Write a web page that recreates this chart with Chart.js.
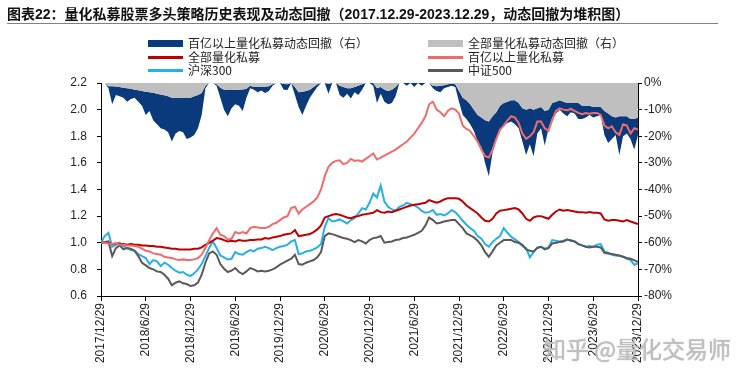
<!DOCTYPE html>
<html>
<head>
<meta charset="utf-8">
<script src="https://cdn.jsdelivr.net/npm/chart.js@4"></script>
<style>
body { margin: 0; background: #fff; }
#box { position: relative; width: 750px; height: 379px; overflow: hidden; font-family: "Noto Sans CJK SC", sans-serif; }
#c { position: absolute; left: 0; top: 0; }
.title { position: absolute; left: 7px; top: 4px; font-size: 14px; font-weight: bold; color: #111; white-space: nowrap; line-height: 20px;
  font-family: "Liberation Sans", "Noto Sans CJK SC", sans-serif; }
.rule { position: absolute; left: 7px; top: 23px; width: 711px; height: 1px; background: #808080; }
.lg { position: absolute; font-size: 12px; color: #222; line-height: 14px; white-space: nowrap; }
.sw { position: absolute; }
.wm { position: absolute; left: 543px; top: 331px; font-size: 23px; color: rgba(200,200,200,0.85); white-space: nowrap;
  text-shadow: 0 0 1px #8a8a8a; }
</style>
</head>
<body>
<div id="box">
  <canvas id="c" width="750" height="379"></canvas>
  <div class="title">图表22：量化私募股票多头策略历史表现及动态回撤（2017.12.29-2023.12.29，动态回撤为堆积图）</div>
  <div class="rule"></div>
  <div id="legend"></div>
  <div class="wm">知乎 @量化交易师</div>
</div>
<script>
// 横轴刻度（每半年一个），数据为半月频
const tickLabels = ['2017/12/29', '2018/6/29', '2018/12/29', '2019/6/29', '2019/12/29', '2020/6/29', '2020/12/29',
    '2021/6/29', '2021/12/29', '2022/6/29', '2022/12/29', '2023/6/29', '2023/12/29'];

// 百亿以上量化私募 净值
const bigNav = [
    1.00, 1.00, 0.995, 0.99, 0.995, 0.985, 0.985, 0.98, 0.98, 0.975, 0.97, 0.955,
    0.94, 0.935, 0.92, 0.915, 0.91, 0.895, 0.89, 0.885, 0.875, 0.87, 0.875, 0.87,
    0.87, 0.875, 0.885, 0.91, 0.96, 1.02, 1.07, 1.11, 1.06, 1.05, 1.025, 1.03,
    1.08, 1.07, 1.08, 1.07, 1.11, 1.12, 1.115, 1.11, 1.11, 1.12, 1.14, 1.15,
    1.17, 1.19, 1.20, 1.26, 1.27, 1.22, 1.25, 1.27, 1.29, 1.31, 1.34, 1.40,
    1.50, 1.57, 1.60, 1.615, 1.62, 1.59, 1.60, 1.63, 1.615, 1.62, 1.61, 1.63,
    1.65, 1.67, 1.625, 1.64, 1.655, 1.67, 1.685, 1.70, 1.72, 1.74, 1.76, 1.79,
    1.82, 1.86, 1.90, 1.95, 2.04, 2.06, 2.00, 1.98, 1.95, 1.99, 2.01, 2.00,
    1.97, 1.88, 1.855, 1.84, 1.80, 1.76, 1.70, 1.65, 1.64, 1.70, 1.78, 1.85,
    1.88, 1.92, 1.95, 1.94, 1.90, 1.82, 1.78, 1.80, 1.83, 1.91, 1.91, 1.86,
    1.84, 1.92, 1.99, 2.01, 2.00, 1.995, 2.005, 1.99, 1.975, 1.965, 1.975, 1.97,
    1.975, 1.975, 1.96, 1.88, 1.86, 1.875, 1.83, 1.81, 1.89, 1.88, 1.82, 1.86,
    1.85
];

// 全部量化私募 净值
const allNav = [
    1.00, 1.00, 1.00, 0.99, 0.995, 0.99, 0.99, 0.985, 0.99, 0.985, 0.985, 0.98,
    0.98, 0.975, 0.975, 0.97, 0.97, 0.965, 0.96, 0.955, 0.955, 0.95, 0.95, 0.95,
    0.95, 0.955, 0.955, 0.965, 0.985, 1.00, 1.015, 1.035, 1.03, 1.02, 1.01, 1.015,
    1.01, 1.02, 1.015, 1.015, 1.02, 1.02, 1.025, 1.025, 1.035, 1.03, 1.04, 1.045,
    1.05, 1.06, 1.065, 1.07, 1.095, 1.05, 1.055, 1.06, 1.065, 1.08, 1.10, 1.13,
    1.19, 1.20, 1.21, 1.215, 1.21, 1.20, 1.19, 1.185, 1.195, 1.20, 1.21, 1.215,
    1.22, 1.225, 1.245, 1.23, 1.225, 1.235, 1.23, 1.24, 1.25, 1.26, 1.27, 1.28,
    1.285, 1.29, 1.295, 1.30, 1.32, 1.31, 1.30, 1.31, 1.325, 1.335, 1.335, 1.335,
    1.33, 1.31, 1.28, 1.26, 1.24, 1.22, 1.19, 1.165, 1.16, 1.18, 1.22, 1.24,
    1.245, 1.25, 1.255, 1.26, 1.25, 1.22, 1.18, 1.165, 1.19, 1.20, 1.20, 1.19,
    1.18, 1.21, 1.235, 1.25, 1.24, 1.245, 1.24, 1.235, 1.23, 1.23, 1.225, 1.23,
    1.225, 1.225, 1.22, 1.175, 1.165, 1.17, 1.17, 1.165, 1.16, 1.17, 1.16, 1.15,
    1.14
];

// 沪深300
const hs300 = [
    1.00, 1.05, 1.075, 0.97, 0.985, 1.00, 0.975, 0.96, 0.945, 0.94, 0.915, 0.90,
    0.885, 0.84, 0.87, 0.86, 0.825, 0.85, 0.835, 0.81, 0.79, 0.775, 0.78, 0.76,
    0.75, 0.77, 0.80, 0.84, 0.90, 0.96, 1.01, 0.96, 0.905, 0.89, 0.875, 0.88,
    0.93, 0.915, 0.91, 0.93, 0.945, 0.935, 0.955, 0.96, 0.97, 0.96, 0.945, 0.96,
    0.97, 0.975, 0.985, 1.01, 1.02, 0.915, 0.92, 0.935, 0.94, 0.95, 0.965, 0.99,
    1.12, 1.185, 1.16, 1.165, 1.175, 1.16, 1.145, 1.17, 1.185, 1.22, 1.26, 1.25,
    1.30, 1.37, 1.34, 1.43, 1.31, 1.27, 1.25, 1.24, 1.27, 1.28, 1.30, 1.29,
    1.28, 1.265, 1.24, 1.225, 1.23, 1.245, 1.21, 1.215, 1.205, 1.22, 1.245, 1.23,
    1.20, 1.165, 1.135, 1.11, 1.09, 1.05, 1.03, 0.99, 0.97, 1.005, 1.03, 1.05,
    1.11, 1.075, 1.045, 1.025, 1.005, 0.975, 0.96, 0.89, 0.93, 0.965, 0.97, 0.955,
    0.965, 1.02, 1.015, 1.01, 1.015, 1.02, 1.02, 1.01, 0.99, 0.98, 0.97, 0.975,
    0.97, 0.985, 0.99, 0.935, 0.925, 0.91, 0.905, 0.90, 0.895, 0.88, 0.87, 0.835,
    0.845
];

// 中证500
const zz500 = [
    1.00, 1.005, 1.01, 0.90, 0.96, 0.98, 0.95, 0.96, 0.955, 0.94, 0.90, 0.85,
    0.83, 0.81, 0.80, 0.785, 0.78, 0.76, 0.73, 0.68, 0.70, 0.71, 0.695, 0.69,
    0.675, 0.68, 0.70, 0.76, 0.85, 0.92, 0.935, 0.91, 0.84, 0.805, 0.78, 0.79,
    0.81, 0.78, 0.765, 0.785, 0.81, 0.80, 0.785, 0.79, 0.785, 0.79, 0.80, 0.815,
    0.835, 0.85, 0.865, 0.88, 0.91, 0.84, 0.835, 0.85, 0.86, 0.87, 0.89, 0.93,
    1.05, 1.07, 1.065, 1.055, 1.045, 1.035, 1.03, 1.02, 1.005, 1.02, 1.01, 0.995,
    1.02, 1.035, 1.04, 1.05, 1.00, 1.005, 1.01, 1.02, 1.025, 1.035, 1.04, 1.05,
    1.06, 1.075, 1.09, 1.13, 1.19, 1.17, 1.145, 1.15, 1.16, 1.165, 1.17, 1.17,
    1.14, 1.11, 1.07, 1.055, 1.04, 1.015, 0.98, 0.93, 0.895, 0.935, 0.98, 1.00,
    1.02, 1.02, 1.02, 1.005, 1.00, 0.985, 0.95, 0.94, 0.935, 0.96, 0.97, 0.95,
    0.96, 0.995, 1.00, 1.005, 1.01, 1.025, 1.015, 1.01, 0.99, 0.98, 0.97, 0.965,
    0.97, 0.97, 0.965, 0.925, 0.92, 0.915, 0.91, 0.905, 0.895, 0.885, 0.88, 0.87,
    0.855
];

// 全部量化私募动态回撤（%）
const allDD = [
    0, 0, -1.2, -1.2, -1.3, -1.5, -1.8, -2, -2.2, -2.5, -2.7, -3,
    -3.3, -3.5, -3.7, -4, -4.3, -4.6, -5, -5.5, -5.6, -5.6, -5.6, -5.6,
    -5.5, -5, -4.5, -3.8, -1, 0, 0, -0.5, -1.8, -2.5, -2.6, -2.6,
    -2.6, -2.5, -2.4, -2.2, -1, -1.5, -1.5, -1.4, -1.4, -1.2, -0.5, 0,
    0, -0.4, -0.5, 0, -1.5, -3.5, -3.3, -3, -2.5, -1.5, -0.5, 0,
    0, -0.3, 0, 0, -1, -1.5, -2, -2, -1.5, -1, -0.5, 0,
    0, 0, -2, -1.5, -2.5, -3, -2.5, -1.5, 0, 0, 0, 0,
    0, 0, 0, 0, 0, -1, -1.2, -1, -0.8, -0.5, -0.3, -0.5,
    -3, -5.5, -6.5, -8, -10, -12, -13, -14, -14.5, -12.5, -11, -8.5,
    -7.5, -7, -6.5, -6.5, -7.5, -9.5, -10, -9.5, -10, -9.5, -9, -10.5,
    -10, -7.5, -7, -6.5, -7, -7.5, -7.5, -7.5, -7.5, -8.5, -8.5, -8.5,
    -9, -9, -9, -10.5, -11.5, -12.5, -13, -12.5, -12.5, -12.5, -13.5, -13.5,
    -13
];

// 百亿以上量化私募动态回撤（%），堆积在上一组之下
const bigDD = [
    0, 0, -0.8, -6.8, -3.2, -3.5, -3.7, -5, -3.8, -3, -4.3, -5.5,
    -8.7, -7, -10.3, -11.5, -12.7, -12.9, -13.5, -16.5, -13.4, -12.4, -12.9, -15.4,
    -15, -14.5, -12.5, -8.2, -1, 0, 0, -0.5, -3.7, -7.5, -9.9, -6.9,
    -5.4, -6, -8.1, -3.3, -1, -1, -2, -1.4, -2.4, -1.8, -0.5, 0,
    0, -2.1, -2.1, 0, -3, -5.5, -8.7, -5.5, -3, -2, -1, 0,
    0, -3.7, 0, 0, -3.5, -4, -2, -3.8, -2, -3.5, -2, 0,
    0, -1, -5.5, -2.5, -4.5, -5, -5, -3.5, 0, 0, -1, 0,
    -1.5, 0, -1, 0, 0, -1, -1.8, -2.5, -1.2, -1, -0.7, -1,
    -4, -6.5, -7, -7.5, -8, -10, -11, -16, -20.5, -13.5, -10, -9.5,
    -8.5, -8, -8, -9, -9.5, -12.5, -17, -13.5, -17.5, -9.5, -8, -13,
    -7, -5.5, -4.5, -3.5, -4.5, -5, -3.5, -4, -6, -5, -4.5, -3.5,
    -4, -3.5, -3, -9, -11, -8.5, -6.5, -14.5, -7.5, -6.5, -7.5, -11.5,
    -6.5
];

const navyColor = '#0a3a7b';
const grayAreaColor = '#bfbfbf';
const redColor = '#c00000';
const pinkColor = '#f06b6b';
const blueColor = '#27b0e6';
const darkGrayColor = '#595959';

// 图例（两列三行）
const legendItems = [
    { text: '百亿以上量化私募动态回撤（右）', color: navyColor, area: true, col: 0, row: 0 },
    { text: '全部量化私募动态回撤（右）', color: grayAreaColor, area: true, col: 1, row: 0 },
    { text: '全部量化私募', color: redColor, area: false, col: 0, row: 1 },
    { text: '百亿以上量化私募', color: pinkColor, area: false, col: 1, row: 1 },
    { text: '沪深300', color: blueColor, area: false, col: 0, row: 2 },
    { text: '中证500', color: darkGrayColor, area: false, col: 1, row: 2 }
];

function buildLegend() {
    const box = document.getElementById('legend');
    const colX = [148, 428];
    const rowY = [43.5, 57, 70.5];
    legendItems.forEach(item => {
        const sw = document.createElement('div');
        sw.className = 'sw';
        const h = item.area ? 7 : 3;
        sw.style.left = colX[item.col] + 'px';
        sw.style.top = (rowY[item.row] - h / 2) + 'px';
        sw.style.width = '35px';
        sw.style.height = h + 'px';
        sw.style.background = item.color;
        box.appendChild(sw);

        const tx = document.createElement('div');
        tx.className = 'lg';
        tx.innerText = item.text;
        tx.style.left = (colX[item.col] + 40) + 'px';
        tx.style.top = (rowY[item.row] - 7.5) + 'px';
        box.appendChild(tx);
    });
}
buildLegend();

function toPoints(arr) {
    return arr.map((v, i) => ({ x: i, y: v }));
}

function lineSet(label, arr, color) {
    return {
        label: label,
        data: toPoints(arr),
        yAxisID: 'y',
        borderColor: color,
        borderWidth: 2,
        pointRadius: 0,
        tension: 0,
        fill: false
    };
}

Chart.defaults.font.family = "'Liberation Sans', Arial, sans-serif";
Chart.defaults.font.size = 12;
Chart.defaults.color = '#222';

const ctx = document.getElementById('c').getContext('2d');
new Chart(ctx, {
    type: 'line',
    data: {
        datasets: [
            lineSet('百亿以上量化私募', bigNav, pinkColor),
            lineSet('全部量化私募', allNav, redColor),
            lineSet('中证500', zz500, darkGrayColor),
            lineSet('沪深300', hs300, blueColor),
            {
                label: '全部量化私募动态回撤（右）',
                data: toPoints(allDD),
                yAxisID: 'y2',
                borderWidth: 0,
                pointRadius: 0,
                backgroundColor: grayAreaColor,
                fill: 'origin'
            },
            {
                label: '百亿以上量化私募动态回撤（右）',
                data: toPoints(bigDD),
                yAxisID: 'y2',
                borderWidth: 0,
                pointRadius: 0,
                backgroundColor: navyColor,
                fill: '-1'
            }
        ]
    },
    options: {
        responsive: false,
        animation: false,
        layout: { padding: { top: 83, left: 0, right: 0, bottom: 0 } },
        plugins: {
            legend: { display: false },
            tooltip: { enabled: false }
        },
        scales: {
            x: {
                type: 'linear',
                min: 0,
                max: 144,
                ticks: {
                    stepSize: 12,
                    autoSkip: false,
                    maxRotation: 90,
                    minRotation: 90,
                    padding: 2,
                    callback: v => tickLabels[Math.round(v / 12)]
                },
                grid: { drawOnChartArea: false, tickLength: 5, color: '#000' },
                border: { color: '#000', width: 1 },
                afterFit: scale => { scale.height = 83; }
            },
            y: {
                position: 'left',
                min: 0.6,
                max: 2.2,
                ticks: { stepSize: 0.2, padding: 10, callback: v => v.toFixed(1) },
                grid: { drawOnChartArea: false, tickLength: 4, color: '#000' },
                border: { color: '#000', width: 1 },
                afterFit: scale => { scale.width = 101; }
            },
            y2: {
                position: 'right',
                stacked: true,
                min: -80,
                max: 0,
                ticks: { stepSize: 10, padding: 2, callback: v => v + '%' },
                grid: { drawOnChartArea: false, tickLength: 4, color: '#000' },
                border: { color: '#000', width: 1 },
                afterFit: scale => { scale.width = 112; }
            }
        }
    }
});
</script>
</body>
</html>
